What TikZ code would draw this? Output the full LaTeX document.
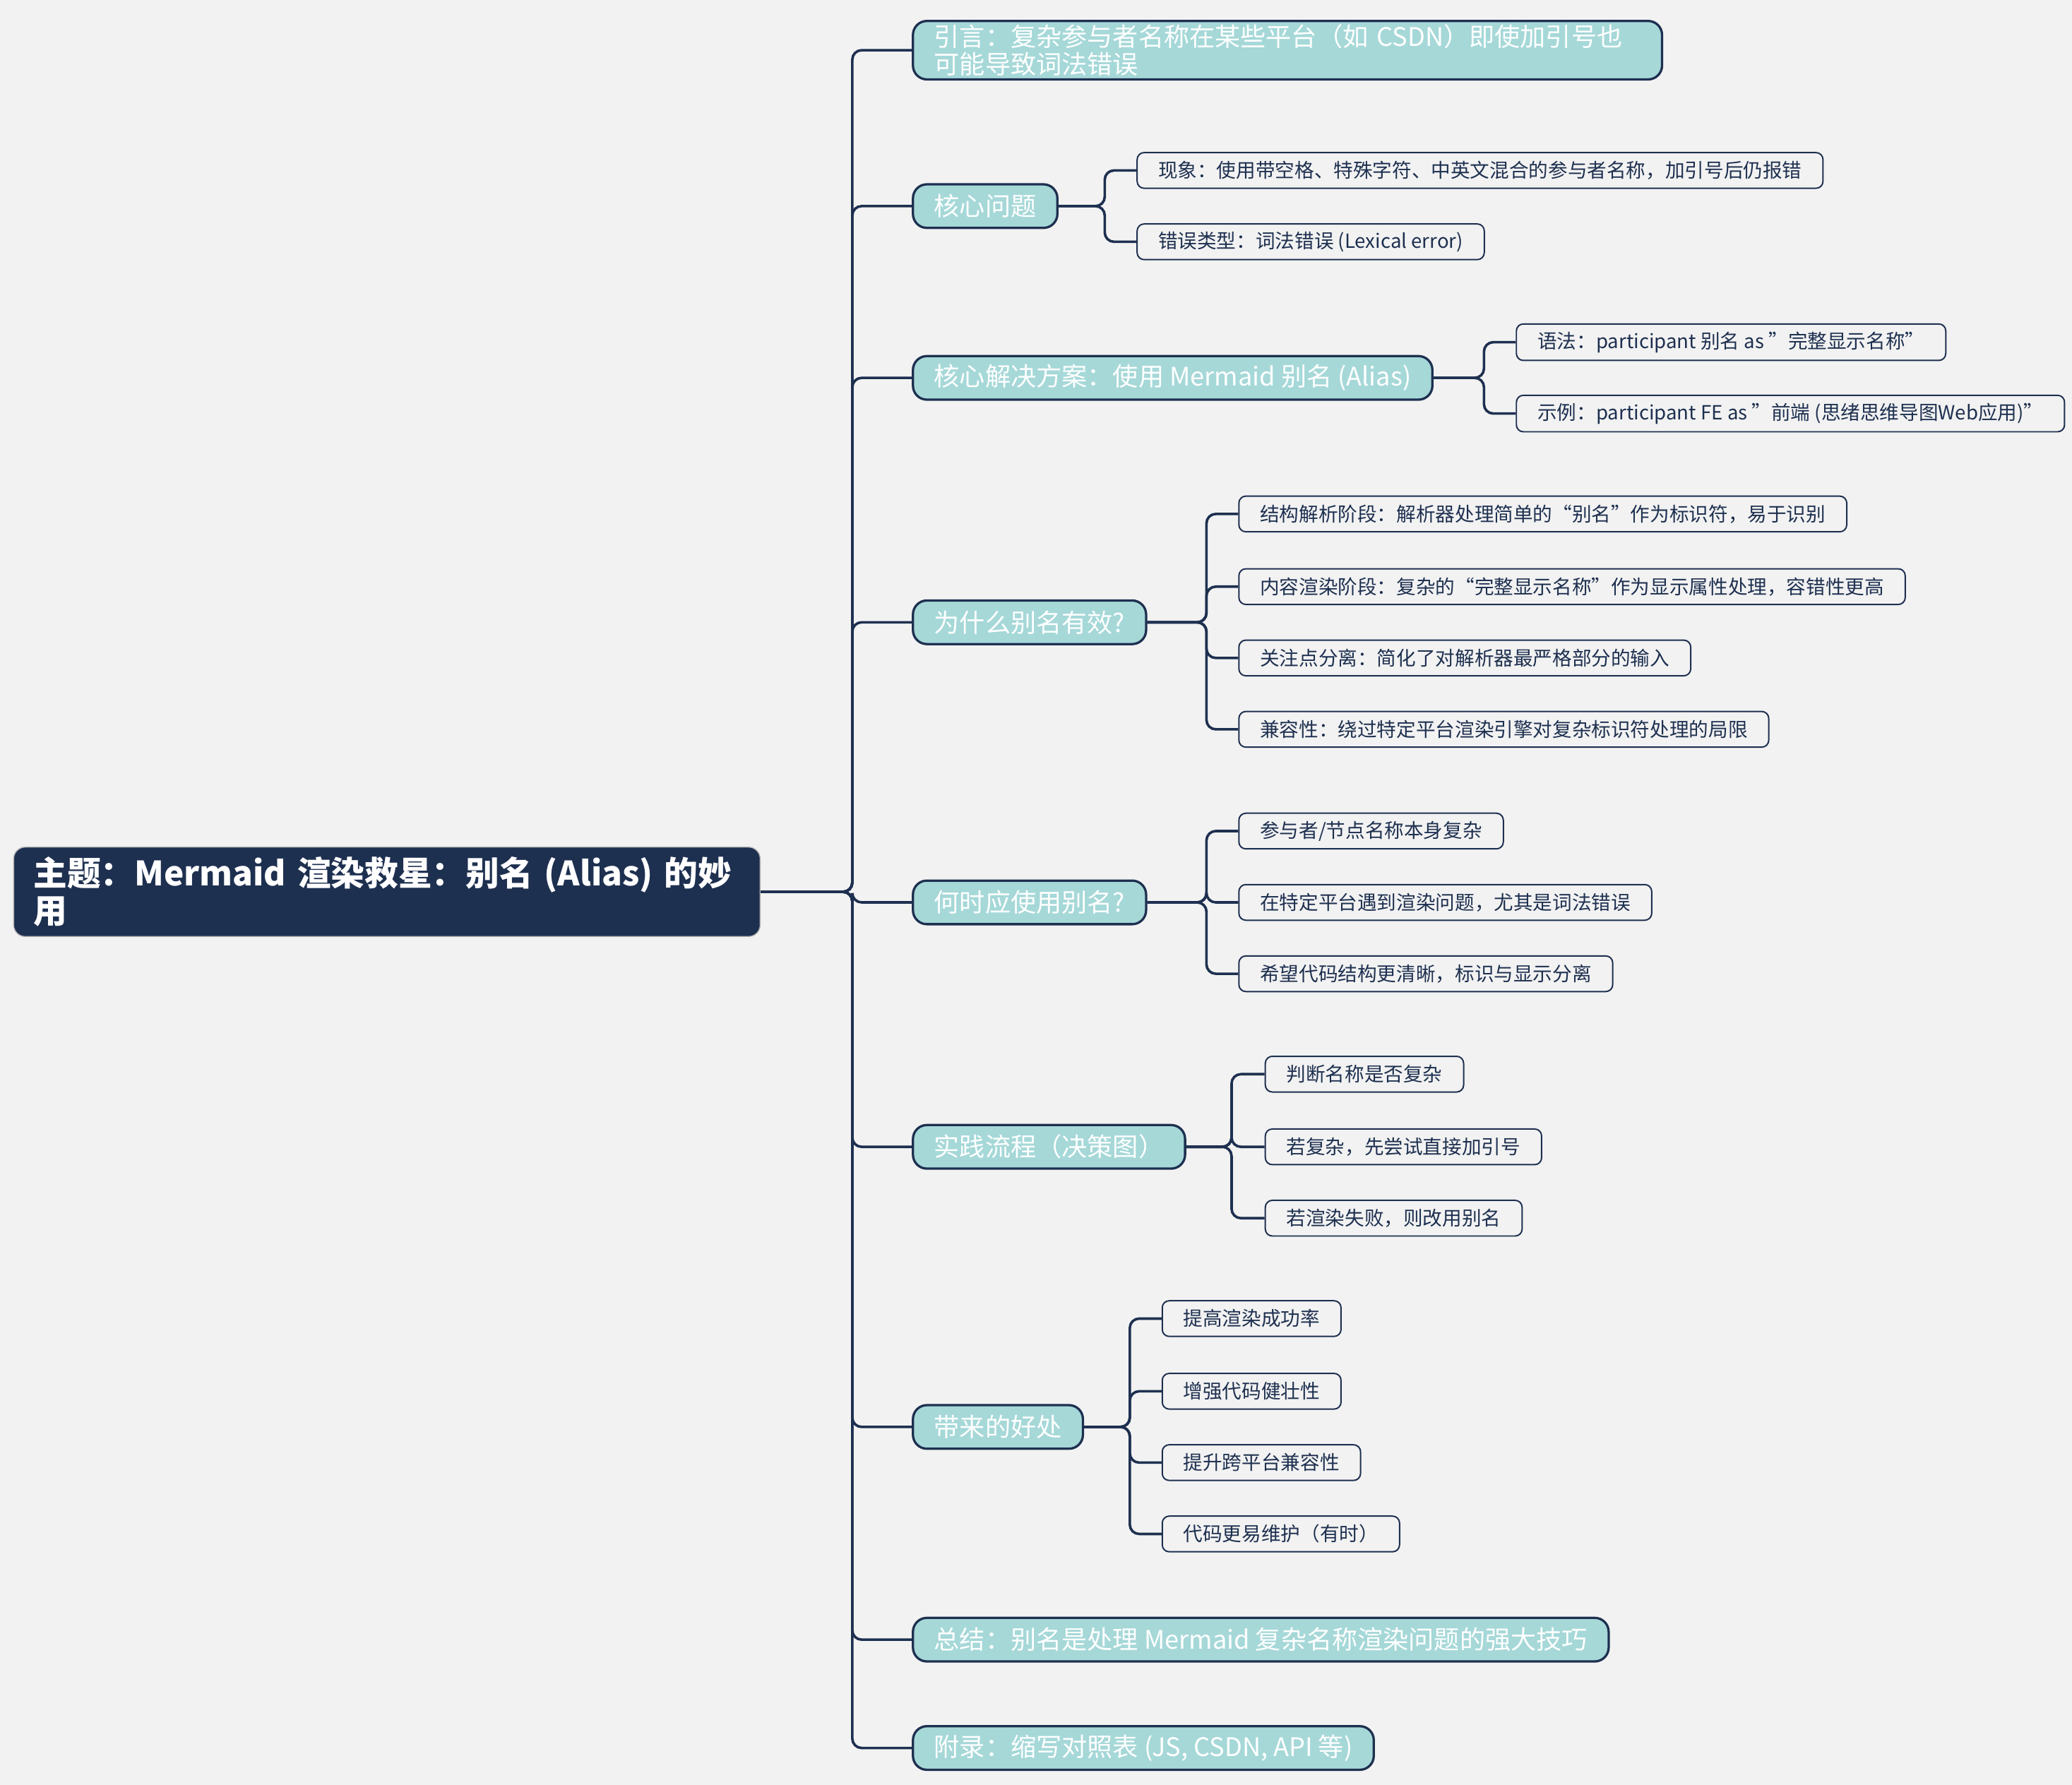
\documentclass[tikz,border=0pt]{standalone}
\usepackage{fontspec}
\setmainfont{Noto Sans CJK SC}
\definecolor{navy}{HTML}{1E3050}
\definecolor{teal1}{HTML}{A6D8D8}
\definecolor{bgc}{HTML}{F2F2F2}
\newcommand{\dq}{\symbol{34}}
\tikzset{
  root/.style={draw=gray!60, fill=navy, text=white, rounded corners=5, anchor=west,
    font=\fontsize{14.5}{16}\selectfont\bfseries, text width=10.7cm, align=left, inner xsep=0.3cm, inner ysep=0.15cm},
  topic/.style={draw=navy, line width=1pt, fill=teal1, text=white, rounded corners=6, anchor=west,
    font=\fontsize{11}{12}\selectfont, minimum height=0.66cm, inner xsep=0.32cm, inner ysep=0.05cm},
  leaf/.style={draw=navy, line width=0.6pt, fill=bgc, text=navy, rounded corners=3, anchor=west,
    font=\fontsize{8.4}{10}\selectfont, minimum height=0.54cm, inner xsep=0.32cm},
  edge/.style={draw=navy, line width=1.1pt, rounded corners=4},
}
\begin{document}
\begin{tikzpicture}[x=0.02cm, y=-0.02cm]
  \fill[bgc] (0,0) rectangle (1568,1351);
  \useasboundingbox (0,0) rectangle (1568,1351);

  \node[root] (main) at (10,675) {主题：Mermaid 渲染救星：别名 (Alias) 的妙\\用};

  % first level
  \node[topic, text width=10.7cm, align=left] (intro) at (690,38) {引言：复杂参与者名称在某些平台（如 CSDN）即使加引号也\\可能导致词法错误};
  \node[topic] (core) at (690,156) {核心问题};
  \node[topic] (fix) at (690,286) {核心解决方案：使用 Mermaid 别名 (Alias)};
  \node[topic] (why) at (690,471) {为什么别名有效?};
  \node[topic] (when) at (690,683) {何时应使用别名?};
  \node[topic] (flow) at (690,868) {实践流程（决策图）};
  \node[topic] (gain) at (690,1080) {带来的好处};
  \node[topic] (sum) at (690,1241) {总结：别名是处理 Mermaid 复杂名称渲染问题的强大技巧};
  \node[topic] (app) at (690,1323) {附录：缩写对照表 (JS, CSDN, API 等)};

  \foreach \t in {intro,core,fix,why,when,flow,gain,sum,app}
    \draw[edge] (main.east) -- (645,675) |- (\t.west);

  % second level
  \node[leaf] (core1) at (860,129) {现象：使用带空格、特殊字符、中英文混合的参与者名称，加引号后仍报错};
  \node[leaf] (core2) at (860,183) {错误类型：词法错误 (Lexical error)};
  \node[leaf] (fix1) at (1147,259) {语法：participant 别名 as \dq 完整显示名称\dq};
  \node[leaf] (fix2) at (1147,313) {示例：participant FE as \dq 前端 (思绪思维导图Web应用)\dq};
  \node[leaf] (why1) at (937,389) {结构解析阶段：解析器处理简单的“别名”作为标识符，易于识别};
  \node[leaf] (why2) at (937,444) {内容渲染阶段：复杂的“完整显示名称”作为显示属性处理，容错性更高};
  \node[leaf] (why3) at (937,498) {关注点分离：简化了对解析器最严格部分的输入};
  \node[leaf] (why4) at (937,552) {兼容性：绕过特定平台渲染引擎对复杂标识符处理的局限};
  \node[leaf] (when1) at (937,629) {参与者/节点名称本身复杂};
  \node[leaf] (when2) at (937,683) {在特定平台遇到渲染问题，尤其是词法错误};
  \node[leaf] (when3) at (937,737) {希望代码结构更清晰，标识与显示分离};
  \node[leaf] (flow1) at (957,813) {判断名称是否复杂};
  \node[leaf] (flow2) at (957,868) {若复杂，先尝试直接加引号};
  \node[leaf] (flow3) at (957,922) {若渲染失败，则改用别名};
  \node[leaf] (gain1) at (879,998) {提高渲染成功率};
  \node[leaf] (gain2) at (879,1053) {增强代码健壮性};
  \node[leaf] (gain3) at (879,1107) {提升跨平台兼容性};
  \node[leaf] (gain4) at (879,1161) {代码更易维护（有时）};

  \foreach \c in {1,2}
    \draw[edge] (core.east) -- (836,156) |- (core\c.west);
  \foreach \c in {1,2}
    \draw[edge] (fix.east) -- (1123,286) |- (fix\c.west);
  \foreach \c in {1,...,4}
    \draw[edge] (why.east) -- (913,471) |- (why\c.west);
  \foreach \c in {1,2,3}
    \draw[edge] (when.east) -- (913,683) |- (when\c.west);
  \foreach \c in {1,2,3}
    \draw[edge] (flow.east) -- (932,868) |- (flow\c.west);
  \foreach \c in {1,...,4}
    \draw[edge] (gain.east) -- (855,1080) |- (gain\c.west);
\end{tikzpicture}
\end{document}
